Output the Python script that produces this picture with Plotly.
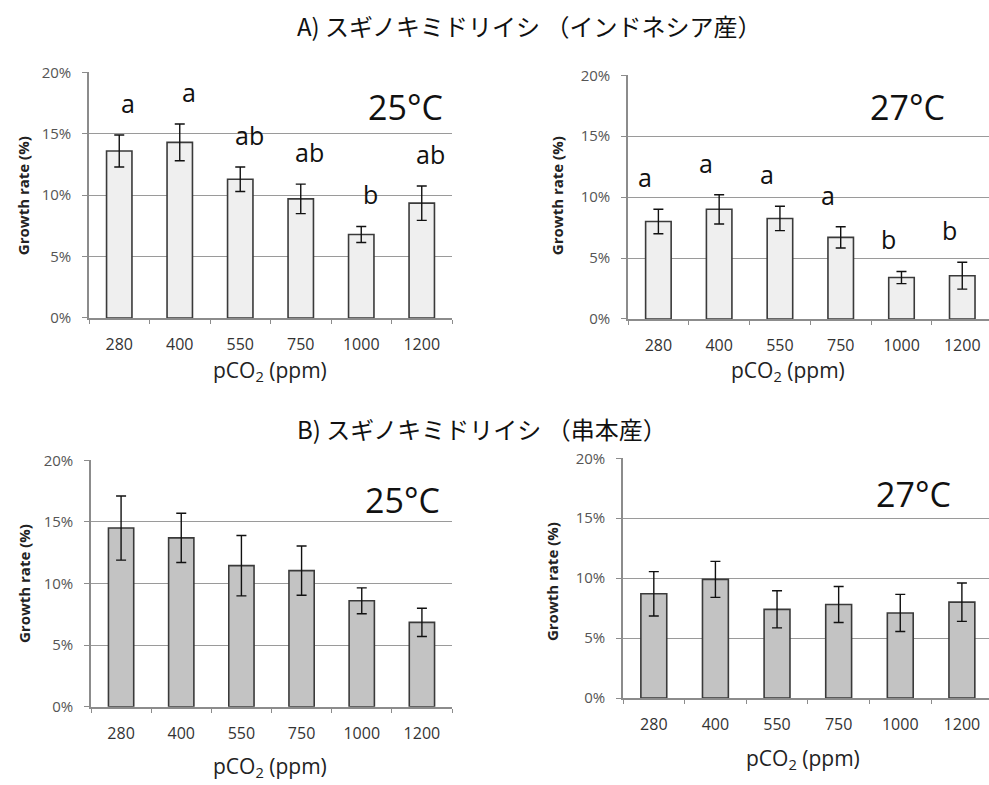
import plotly.graph_objects as go

categories = ["280", "400", "550", "750", "1000", "1200"]

a25_vals = [13.6, 14.3, 11.3, 9.7, 6.8, 9.35]
a25_err = [1.3, 1.5, 1.0, 1.2, 0.65, 1.4]
a25_letters = ["a", "a", "ab", "ab", "b", "ab"]

a27_vals = [8.0, 9.0, 8.25, 6.7, 3.4, 3.55]
a27_err = [1.0, 1.2, 1.0, 0.87, 0.5, 1.1]
a27_letters = ["a", "a", "a", "a", "b", "b"]

b25_vals = [14.5, 13.7, 11.45, 11.05, 8.6, 6.85]
b25_err = [2.6, 2.0, 2.45, 2.0, 1.05, 1.15]

b27_vals = [8.7, 9.9, 7.4, 7.8, 7.1, 8.0]
b27_err = [1.85, 1.5, 1.55, 1.5, 1.55, 1.6]

y_ticks = [0, 5, 10, 15, 20]
y_tick_labels = ["0%", "5%", "10%", "15%", "20%"]

title_a = "A) スギノキミドリイシ （インドネシア産）"
title_b = "B) スギノキミドリイシ （串本産）"
temp_25 = "25°C"
temp_27 = "27°C"
x_title = "pCO<sub>2</sub> (ppm)"
y_title = "<b>Growth rate (%)</b>"

W, H = 989, 785
LAT = "Open Sans, Noto Sans, sans-serif"
JP = "Noto Sans CJK JP, sans-serif"


def fx(px):
    return px / W


def fy(py):
    return 1 - py / H


panels = [
    dict(vals=a25_vals, errs=a25_err, letters=a25_letters, fill="#efefef",
         xd=(89, 452), yd=(63, 315), xmax=5.5, temp=temp_25, tpos=(405, 99),
         lshift=9, xt=(270, 369), yt=(23, 190)),
    dict(vals=a27_vals, errs=a27_err, letters=a27_letters, fill="#efefef",
         xd=(628, 989), yd=(66, 316), xmax=5.44, temp=temp_27, tpos=(907, 99),
         lshift=-13, xt=(788, 369), yt=(557, 190)),
    dict(vals=b25_vals, errs=b25_err, letters=None, fill="#c3c3c3",
         xd=(91, 452), yd=(461, 714), xmax=5.5, temp=temp_25, tpos=(402, 502),
         lshift=0, xt=(270, 776), yt=(24, 588)),
    dict(vals=b27_vals, errs=b27_err, letters=None, fill="#c3c3c3",
         xd=(623, 989), yd=(459, 705), xmax=5.44, temp=temp_27, tpos=(913, 496),
         lshift=0, xt=(803, 768), yt=(552, 586)),
]

fig = go.Figure()
annotations = []
layout = {}

for i, p in enumerate(panels, start=1):
    xa = "x" if i == 1 else f"x{i}"
    ya = "y" if i == 1 else f"y{i}"
    fig.add_trace(go.Bar(
        x=categories, y=p["vals"], xaxis=xa, yaxis=ya, width=0.42,
        marker=dict(color=p["fill"], line=dict(color="#3a3a3a", width=1.6)),
        error_y=dict(type="data", array=p["errs"], visible=True,
                     color="#111111", thickness=1.4, width=5),
        showlegend=False, hoverinfo="skip",
    ))
    xkey = "xaxis" if i == 1 else f"xaxis{i}"
    ykey = "yaxis" if i == 1 else f"yaxis{i}"
    layout[xkey] = dict(
        domain=[fx(p["xd"][0]), fx(p["xd"][1])], anchor=ya,
        type="category", range=[-0.5, p["xmax"]],
        showline=True, linecolor="#8c8c8c", linewidth=1.5,
        ticks="outside", tickson="boundaries", ticklen=4, tickcolor="#8c8c8c",
        ticklabelstandoff=11,
        tickfont=dict(family=LAT, size=16, color="#333333"),
        showgrid=False, zeroline=False, fixedrange=True,
    )
    layout[ykey] = dict(
        domain=[fy(p["yd"][1]), fy(p["yd"][0])], anchor=xa,
        range=[0, 20], tickvals=y_ticks, ticktext=y_tick_labels,
        showline=True, linecolor="#8c8c8c", linewidth=1.5,
        ticks="outside", ticklen=5, tickcolor="#8c8c8c",
        ticklabelstandoff=8,
        tickfont=dict(family=LAT, size=15, color="#555555"),
        showgrid=True, gridcolor="#9a9a9a", gridwidth=1.3,
        zeroline=False, fixedrange=True,
    )
    if p["letters"]:
        for idx, (v, e, t) in enumerate(zip(p["vals"], p["errs"], p["letters"])):
            annotations.append(dict(
                x=idx, y=v + e, xref=xa, yref=ya, text=t, showarrow=False,
                yanchor="bottom", yshift=13, xshift=p["lshift"],
                font=dict(family=LAT, size=25, color="#111111"),
            ))
    annotations.append(dict(
        x=fx(p["tpos"][0]), y=fy(p["tpos"][1]), xref="paper", yref="paper",
        text=p["temp"], showarrow=False, xanchor="center", yanchor="middle",
        font=dict(family=LAT, size=34, color="#111111"),
    ))
    annotations.append(dict(
        x=fx(p["xt"][0]), y=fy(p["xt"][1]), xref="paper", yref="paper",
        text=x_title, showarrow=False, xanchor="center", yanchor="middle",
        font=dict(family=LAT, size=21, color="#222222"),
    ))
    annotations.append(dict(
        x=fx(p["yt"][0]), y=fy(p["yt"][1]), xref="paper", yref="paper",
        text=y_title, showarrow=False, xanchor="center", yanchor="middle",
        textangle=-90, font=dict(family=LAT, size=15, color="#222222"),
    ))

annotations.append(dict(
    x=fx(295), y=1, xref="paper", yref="paper", text=title_a,
    showarrow=False, xanchor="left", yanchor="top", yshift=5,
    font=dict(family=JP, size=24, color="#111111"),
))
annotations.append(dict(
    x=fx(295), y=fy(428), xref="paper", yref="paper", text=title_b,
    showarrow=False, xanchor="left", yanchor="middle",
    font=dict(family=JP, size=24, color="#111111"),
))

fig.update_layout(
    width=W, height=H, margin=dict(l=0, r=0, t=0, b=0),
    paper_bgcolor="white", plot_bgcolor="white",
    annotations=annotations,
    **layout,
)

fig.write_html("out.html", config={"displayModeBar": False})
